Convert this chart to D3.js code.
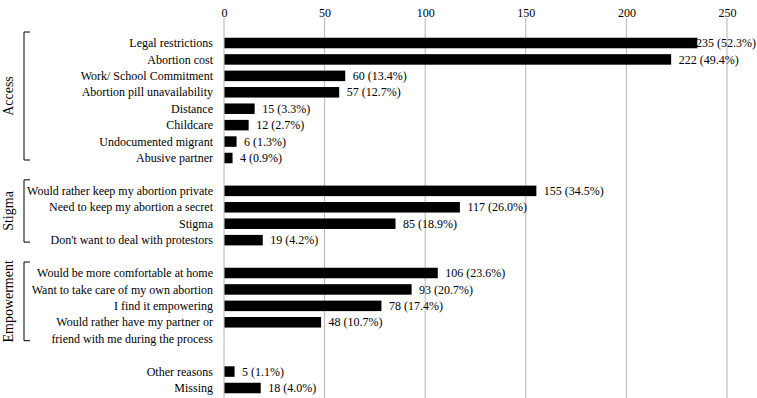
<!DOCTYPE html>
<html>
<head>
<meta charset="utf-8">
<script src="https://cdn.jsdelivr.net/npm/d3@7"></script>
<style>
    html, body { margin: 0; padding: 0; background: #fff; }
    text { font-family: 'Liberation Serif', 'Times New Roman', serif; fill: #000; }
</style>
</head>
<body>
<script>
var categories = [
    'Legal restrictions', 'Abortion cost', 'Work/ School Commitment', 'Abortion pill unavailability',
    'Distance', 'Childcare', 'Undocumented migrant', 'Abusive partner',
    'Would rather keep my abortion private', 'Need to keep my abortion a secret', 'Stigma',
    'Don\'t want to deal with protestors',
    'Would be more comfortable at home', 'Want to take care of my own abortion', 'I find it empowering',
    'Would rather have my partner or|friend with me during the process',
    'Other reasons', 'Missing'
];
var counts = [235, 222, 60, 57, 15, 12, 6, 4, 155, 117, 85, 19, 106, 93, 78, 48, 5, 18];
var percents = ['52.3%', '49.4%', '13.4%', '12.7%', '3.3%', '2.7%', '1.3%', '0.9%',
    '34.5%', '26.0%', '18.9%', '4.2%', '23.6%', '20.7%', '17.4%', '10.7%', '1.1%', '4.0%'];
var groupOf = ['Access', 'Access', 'Access', 'Access', 'Access', 'Access', 'Access', 'Access',
    'Stigma', 'Stigma', 'Stigma', 'Stigma',
    'Empowerment', 'Empowerment', 'Empowerment', 'Empowerment',
    '', ''];
var groups = ['Access', 'Stigma', 'Empowerment'];
var xTicks = [0, 50, 100, 150, 200, 250];

(function() {
    'use strict';
    var width = 757,
        height = 398;

    // row slots: extra slot for a second label line, blank slot between groups
    var slots = [];
    var rows = categories.map(function(c, i) {
        if (i > 0 && groupOf[i] !== groupOf[i - 1]) {
            slots.push('gap' + i);
        }
        var lines = c.split('|');
        var key = 'row' + i;
        slots.push(key);
        for (var k = 1; k < lines.length; k++) {
            slots.push(key + '_' + k);
        }
        return { key: key, lines: lines, value: counts[i], pct: percents[i], group: groupOf[i] };
    });

    var x = d3.scaleLinear().domain([0, 250]).range([224, 727]);
    var y = d3.scalePoint().domain(slots).range([43, 388]);
    var barH = y.step() * 0.64;

    var svg = d3.select('body').append('svg')
        .attr('width', width)
        .attr('height', height);

    // grid
    svg.append('g').selectAll('line')
        .data(xTicks)
        .enter().append('line')
        .attr('x1', function(d) { return x(d); })
        .attr('x2', function(d) { return x(d); })
        .attr('y1', 18)
        .attr('y2', height)
        .attr('stroke', '#b4b4b4')
        .attr('stroke-width', 1);

    var axis = d3.axisTop(x).tickValues(xTicks).tickSize(0).tickPadding(0);
    var ax = svg.append('g')
        .attr('transform', 'translate(0,18)')
        .call(axis)
        .attr('font-family', null)
        .attr('font-size', null);
    ax.select('.domain').remove();
    ax.selectAll('text')
        .attr('y', -1)
        .style('font-size', '12px')
        .attr('fill', '#000');

    // bars
    svg.append('g').selectAll('rect')
        .data(rows)
        .enter().append('rect')
        .attr('x', x(0) + 0.5)
        .attr('y', function(d) { return y(d.key) - barH / 2; })
        .attr('width', function(d) { return x(d.value) - x(0); })
        .attr('height', barH)
        .attr('fill', '#000');

    // value labels
    svg.append('g').selectAll('text')
        .data(rows)
        .enter().append('text')
        .attr('y', function(d) { return y(d.key); })
        .attr('dy', '0.35em')
        .style('font-size', '12px')
        .text(function(d) { return d.value + ' (' + d.pct + ')'; })
        .attr('x', function(d) {
            var w = this.getComputedTextLength();
            return Math.min(x(d.value) + 8, width - 1 - w);
        });

    // category labels
    var cl = svg.append('g').selectAll('text')
        .data(rows)
        .enter().append('text')
        .attr('y', function(d) { return y(d.key); })
        .attr('text-anchor', 'end')
        .style('font-size', '12px');
    cl.selectAll('tspan')
        .data(function(d) { return d.lines; })
        .enter().append('tspan')
        .attr('x', 213)
        .attr('dy', function(d, i) { return i === 0 ? '0.35em' : y.step(); })
        .text(function(d) { return d; });

    // group brackets
    groups.forEach(function(g) {
        var members = rows.filter(function(r) { return r.group === g; });
        var first = members[0];
        var last = members[members.length - 1];
        var lastKey = last.lines.length > 1 ? last.key + '_' + (last.lines.length - 1) : last.key;
        var top = y(first.key) - 11;
        var bottom = y(lastKey) + 2;
        svg.append('path')
            .attr('d', 'M30,' + top + 'H24V' + bottom + 'H30')
            .attr('fill', 'none')
            .attr('stroke', '#000')
            .attr('stroke-width', 1);
        var cy = (top + bottom) / 2;
        svg.append('text')
            .attr('transform', 'translate(13,' + cy + ') rotate(-90)')
            .attr('text-anchor', 'middle')
            .style('font-size', '14px')
            .text(g);
    });
}());
</script>
</body>
</html>
